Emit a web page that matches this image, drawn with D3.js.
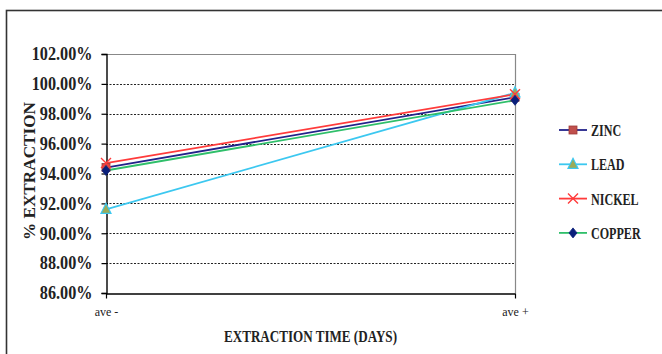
<!DOCTYPE html>
<html>
<head>
<meta charset="utf-8">
<script src="https://cdn.jsdelivr.net/npm/d3@7"></script>
<style>
  html, body { margin: 0; padding: 0; background: #fff; }
  svg { display: block; }
</style>
</head>
<body>
<svg id="chart" width="662" height="354"></svg>
<script>
// Extraction efficiency before/after treatment, per metal
const categories = ["ave -", "ave +"];
const seriesNames = ["ZINC", "LEAD", "NICKEL", "COPPER"];
const zinc   = [94.4, 99.1];
const lead   = [91.6, 99.4];
const nickel = [94.7, 99.3];
const copper = [94.2, 98.9];
const yTicks = [86, 88, 90, 92, 94, 96, 98, 100, 102];

const series = [
  { name: seriesNames[0], values: zinc,   line: "#22228a", marker: "square",   fill: "#c0504d", stroke: "#9e3b38" },
  { name: seriesNames[1], values: lead,   line: "#3cc8f0", marker: "triangle", fill: "#9bab59", stroke: "#3cc8f0" },
  { name: seriesNames[2], values: nickel, line: "#ff3b3b", marker: "x",        fill: "none",    stroke: "#ff3b3b" },
  { name: seriesNames[3], values: copper, line: "#2fbf6a", marker: "diamond",  fill: "#0a1f7a", stroke: "#0a1f7a" }
];

const svg = d3.select("#chart");
const SERIF = "Liberation Serif";
const NARROW = "Liberation Sans Narrow";

// squeeze text horizontally by a factor (condensed look)
function squeeze(sel, k) {
  sel.each(function () {
    const w = this.getComputedTextLength();
    d3.select(this).attr("textLength", w * k).attr("lengthAdjust", "spacingAndGlyphs");
  });
}
function fitTo(sel, width) {
  sel.attr("textLength", width).attr("lengthAdjust", "spacingAndGlyphs");
}

// outer frame
svg.append("rect")
  .attr("x", 6.5).attr("y", 10.5).attr("width", 700).attr("height", 400)
  .attr("fill", "none").attr("stroke", "#333").attr("stroke-width", 1.6);

const plot = { left: 106, right: 515, top: 54, bottom: 293 };

const x = d3.scalePoint().domain(categories).range([plot.left, plot.right]);
const y = d3.scaleLinear().domain([86, 102]).range([plot.bottom, plot.top]);

// gridlines
svg.append("g").selectAll("line")
  .data(yTicks.filter(t => t > 86 && t < 102))
  .join("line")
  .attr("x1", plot.left).attr("x2", plot.right)
  .attr("y1", d => Math.round(y(d)) + 0.5).attr("y2", d => Math.round(y(d)) + 0.5)
  .attr("stroke", "#222").attr("stroke-width", 1.2).attr("stroke-dasharray", "2,1.5");

// top and right border of the plot area
svg.append("line")
  .attr("x1", plot.left).attr("x2", plot.right)
  .attr("y1", Math.round(y(102)) + 0.5).attr("y2", Math.round(y(102)) + 0.5)
  .attr("stroke", "#888").attr("stroke-width", 1.2);
svg.append("line")
  .attr("x1", plot.right + 0.5).attr("x2", plot.right + 0.5)
  .attr("y1", plot.top).attr("y2", plot.bottom)
  .attr("stroke", "#888").attr("stroke-width", 1.2);

// y axis
const yAxis = svg.append("g")
  .attr("transform", `translate(${plot.left + 0.5},0)`)
  .call(d3.axisLeft(y).tickValues(yTicks).tickSize(5).tickPadding(9)
    .tickFormat(d => d3.format(".2f")(d) + "%"));
yAxis.select(".domain").attr("stroke", "#000").attr("stroke-width", 1.4);
yAxis.selectAll(".tick line").attr("stroke", "#000").attr("stroke-width", 1.2);
yAxis.selectAll(".tick text")
  .style("font-family", SERIF).style("font-weight", "bold").style("font-size", "18px")
  .attr("fill", "#222");
squeeze(yAxis.selectAll(".tick text"), 0.9);

// x axis
const xAxis = svg.append("g")
  .attr("transform", `translate(0,${plot.bottom + 0.5})`)
  .call(d3.axisBottom(x).tickSize(5).tickSizeOuter(0).tickPadding(9));
xAxis.select(".domain").attr("stroke", "#000").attr("stroke-width", 1.4);
xAxis.selectAll(".tick line").attr("stroke", "#000").attr("stroke-width", 1.2);
xAxis.selectAll(".tick text")
  .style("font-family", NARROW).style("font-size", "12px").attr("fill", "#222");

// axis titles
const xTitle = svg.append("text")
  .attr("x", (plot.left + plot.right) / 2).attr("y", 342)
  .attr("text-anchor", "middle")
  .style("font-family", SERIF).style("font-weight", "bold").style("font-size", "17px")
  .attr("fill", "#222")
  .text("EXTRACTION TIME (DAYS)");
fitTo(xTitle, 173);

const yTitle = svg.append("text")
  .attr("transform", "translate(35,171) rotate(-90)")
  .attr("text-anchor", "middle")
  .style("font-family", SERIF).style("font-weight", "bold").style("font-size", "16.5px")
  .attr("fill", "#222")
  .text("% EXTRACTION");
fitTo(yTitle, 138);

// marker drawing
function drawMarker(g, s, cx, cy) {
  if (s.marker === "square") {
    g.append("rect").attr("x", cx - 4).attr("y", cy - 4).attr("width", 8).attr("height", 8)
      .attr("fill", s.fill).attr("stroke", s.stroke).attr("stroke-width", 0.8);
  } else if (s.marker === "triangle") {
    g.append("path").attr("d", `M${cx},${cy - 6}L${cx + 5},${cy + 4}L${cx - 5},${cy + 4}Z`)
      .attr("fill", s.fill).attr("stroke", s.stroke).attr("stroke-width", 1.2);
  } else if (s.marker === "x") {
    g.append("path").attr("d", `M${cx - 5},${cy - 5}L${cx + 5},${cy + 5}M${cx - 5},${cy + 5}L${cx + 5},${cy - 5}`)
      .attr("stroke", s.stroke).attr("stroke-width", 1.4).attr("fill", "none");
  } else if (s.marker === "diamond") {
    g.append("path").attr("d", `M${cx},${cy - 5}L${cx + 4},${cy}L${cx},${cy + 5}L${cx - 4},${cy}Z`)
      .attr("fill", s.fill).attr("stroke", s.stroke).attr("stroke-width", 0.8);
  }
}

// series lines and markers
const line = d3.line().x((d, i) => x(categories[i])).y(d => y(d));
series.forEach(s => {
  svg.append("path").datum(s.values)
    .attr("d", line).attr("fill", "none")
    .attr("stroke", s.line).attr("stroke-width", 1.8);
});
series.forEach(s => {
  const g = svg.append("g");
  s.values.forEach((v, i) => drawMarker(g, s, x(categories[i]), y(v)));
});

// legend
const legend = svg.append("g");
series.forEach((s, i) => {
  const ly = 130 + i * 34.3;
  const g = legend.append("g");
  g.append("line").attr("x1", 559).attr("x2", 587).attr("y1", ly).attr("y2", ly)
    .attr("stroke", s.line).attr("stroke-width", 1.8);
  drawMarker(g, s, 573, ly);
  const t = g.append("text").attr("x", 591).attr("y", ly + 6)
    .style("font-family", SERIF).style("font-weight", "bold").style("font-size", "17px")
    .attr("fill", "#222").text(s.name);
  squeeze(t, 0.71);
});
</script>
</body>
</html>
